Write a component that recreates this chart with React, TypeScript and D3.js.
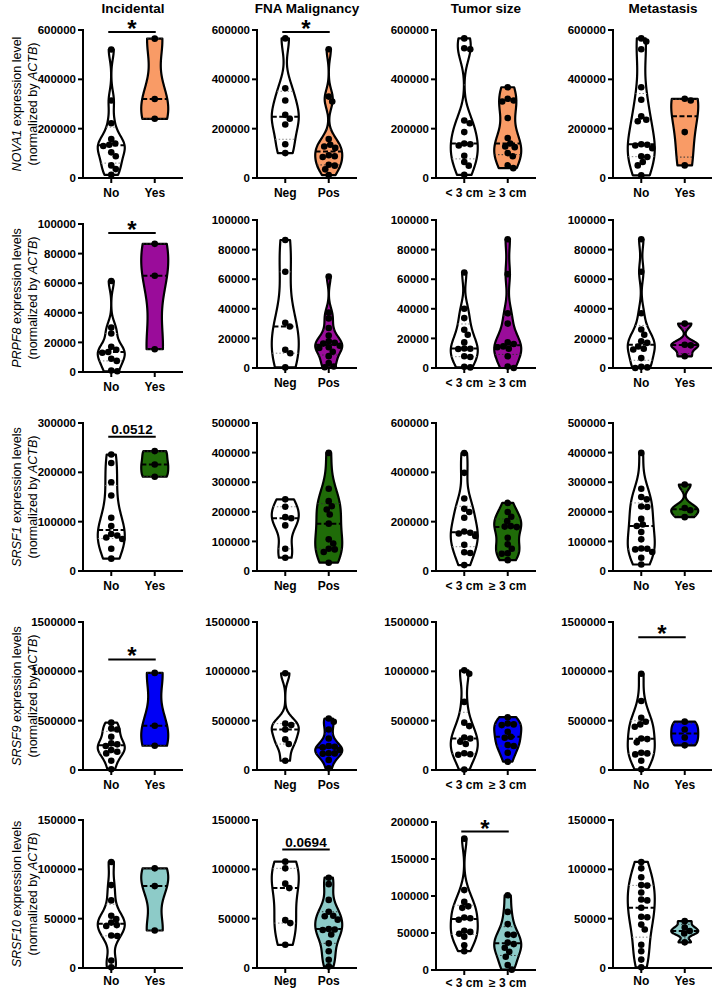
import React from "react";
import * as d3 from "d3";

// ---------- data ----------
const genes = ["NOVA1", "PRPF8", "SRSF1", "SRSF9", "SRSF10"];
const geneSuffix = [" expression level", " expression levels", " expression levels", " expression levels", " expression levels"];
const titles = ["Incidental", "FNA Malignancy", "Tumor size", "Metastasis"];
const groupLabels = [["No", "Yes"], ["Neg", "Pos"], ["< 3 cm", "\u2265 3 cm"], ["No", "Yes"]];
const rowColors = ["#F99B66", "#9A0C9A", "#1F6B08", "#0000F5", "#8DCBC8"];

const yMaxes = [
  [600000, 600000, 600000, 600000],
  [100000, 100000, 100000, 100000],
  [300000, 500000, 600000, 500000],
  [1500000, 1500000, 1500000, 1500000],
  [150000, 150000, 200000, 150000],
];
const yTickSteps = [
  [200000, 200000, 200000, 200000],
  [20000, 20000, 20000, 20000],
  [100000, 100000, 200000, 100000],
  [500000, 500000, 500000, 500000],
  [50000, 50000, 50000, 50000],
];

// NOVA1
const nova1Incidental = [
  [521000, 314000, 222000, 158000, 140000, 135000, 130000, 104000, 88000, 51000, 36000, 13000],
  [565000, 320000, 240000],
];
const nova1FNA = [
  [566000, 364000, 314000, 256000, 240000, 217000, 137000, 101000],
  [522000, 330000, 310000, 158000, 135000, 128000, 122000, 92000, 88000, 85000, 54000, 50000, 35000, 12000],
];
const nova1Tumor = [
  [566000, 526000, 522000, 233000, 222000, 186000, 140000, 137000, 132000, 90000, 65000, 50000, 13000],
  [368000, 321000, 314000, 310000, 243000, 162000, 140000, 128000, 125000, 101000, 88000, 51000, 40000],
];
const nova1Meta = [
  [566000, 553000, 522000, 368000, 317000, 250000, 236000, 230000, 137000, 135000, 132000, 121000, 88000, 85000, 65000, 51000, 11000],
  [321000, 314000, 186000, 51000],
];
// PRPF8
const prpf8Incidental = [
  [61500, 30000, 26000, 17000, 15000, 13500, 13000, 9000, 7500, 1000, 500],
  [86600, 65000, 15400],
];
const prpf8FNA = [
  [86500, 65000, 30500, 28000, 12300, 10000, 400],
  [61800, 37500, 33500, 27000, 22000, 18000, 17000, 16500, 15000, 14000, 13500, 11000, 8000, 3400, 1000, 500],
];
const prpf8Tumor = [
  [64500, 40000, 33700, 25800, 22500, 17300, 13200, 13000, 12800, 7900, 7400, 800, 400],
  [87000, 63400, 37000, 30000, 17300, 16200, 14600, 14000, 13000, 7900, 1000, 0],
];
const prpf8Meta = [
  [87000, 65000, 37000, 26000, 22500, 18000, 17000, 14500, 13000, 12500, 6700, 800, 400, 0],
  [30000, 15700, 15300, 7900],
];
// SRSF1
const srsf1Incidental = [
  [236000, 219000, 180000, 153000, 108000, 91000, 75000, 72000, 68000, 65000, 45000, 25000],
  [243000, 216000, 191000],
];
const srsf1FNA = [
  [242000, 217000, 182000, 178000, 154000, 75000, 45000],
  [399000, 278000, 236000, 219000, 208000, 191000, 160000, 107000, 93000, 75000, 73000, 64000, 28000],
];
const srsf1Tumor = [
  [478000, 398000, 294000, 252000, 239000, 216000, 160000, 155000, 152000, 142000, 106000, 76000, 73000, 24000],
  [276000, 239000, 220000, 202000, 182000, 180000, 178000, 135000, 108000, 90000, 72000, 70000, 44000],
];
const srsf1Meta = [
  [399000, 278000, 250000, 242000, 218000, 216000, 176000, 157000, 152000, 132000, 107000, 76000, 75000, 73000, 64000, 45000, 22000],
  [292000, 213000, 205000, 182000],
];
// SRSF9
const srsf9Incidental = [
  [480000, 420000, 410000, 337000, 270000, 260000, 243000, 202000, 185000, 168000, 94000, 7000],
  [984000, 448000, 246000],
];
const srsf9FNA = [
  [980000, 470000, 455000, 410000, 310000, 263000, 94000],
  [522000, 489000, 411000, 320000, 243000, 236000, 229000, 202000, 170000, 168000, 165000, 101000, 17000],
];
const srsf9Tumor = [
  [1010000, 975000, 690000, 480000, 445000, 330000, 320000, 287000, 263000, 170000, 160000, 155000, 5000],
  [535000, 472000, 462000, 455000, 388000, 337000, 327000, 253000, 243000, 175000, 84000],
];
const srsf9Meta = [
  [975000, 700000, 530000, 489000, 462000, 438000, 320000, 313000, 280000, 175000, 168000, 158000, 94000, 7000],
  [490000, 410000, 330000, 250000],
];
// SRSF10
const srsf10Incidental = [
  [107500, 84000, 68500, 53000, 49500, 46000, 43500, 42500, 33000, 32500, 7500, 700],
  [101000, 83000, 38000],
];
const srsf10FNA = [
  [107800, 101000, 85500, 81000, 48500, 45500, 23500],
  [91500, 85000, 69000, 57000, 53000, 52500, 49000, 39500, 39000, 38500, 34000, 25000, 17000, 8400, 1600],
];
const srsf10Tumor = [
  [177500, 108000, 92000, 86000, 84000, 71000, 70000, 68000, 53000, 51500, 49000, 45000, 33500, 25500],
  [101000, 78500, 62000, 48000, 47500, 37000, 35000, 30000, 24500, 18000, 6700, 500],
];
const srsf10Meta = [
  [107500, 101000, 92000, 84000, 83500, 76500, 69500, 68500, 61000, 52000, 51500, 44000, 39000, 23500, 17000, 8500, 700],
  [47500, 41000, 37500, 35000, 26000],
];

const panelData = [
  [nova1Incidental, nova1FNA, nova1Tumor, nova1Meta],
  [prpf8Incidental, prpf8FNA, prpf8Tumor, prpf8Meta],
  [srsf1Incidental, srsf1FNA, srsf1Tumor, srsf1Meta],
  [srsf9Incidental, srsf9FNA, srsf9Tumor, srsf9Meta],
  [srsf10Incidental, srsf10FNA, srsf10Tumor, srsf10Meta],
];

// significance annotations
const sigRows = [0, 0, 1, 2, 3, 3, 4, 4];
const sigCols = [0, 1, 0, 0, 0, 3, 1, 2];
const sigLabels = ["*", "*", "*", "0.0512", "*", "*", "0.0694", "*"];
const sigValues = [592000, 592000, 94000, 272000, 1120000, 1345000, 120000, 187000];

// ---------- layout ----------
const W = 712;
const H = 991;
const FONT = '"Liberation Sans", Arial, Helvetica, sans-serif';
const colX = [83, 257, 436, 613];
const rowTop = [30, 220, 423, 622, 820];
const plotH = 148;
const plotW = 100;
const panelDy: Record<string, number> = { "1-0": 4, "4-2": 2 };
const HALF_W = 13.5;
const R = 3.3;

function quant(sorted: number[], p: number) {
  const n = sorted.length;
  const pos = p * (n + 1);
  if (pos <= 1) return sorted[0];
  if (pos >= n) return sorted[n - 1];
  const i = Math.floor(pos);
  return sorted[i - 1] + (pos - i) * (sorted[i] - sorted[i - 1]);
}

function bandwidth(values: number[]) {
  const n = values.length;
  const sorted = values.slice().sort(d3.ascending);
  const sd = d3.deviation(values) || 1;
  const iqr = (d3.quantile(sorted, 0.75) as number) - (d3.quantile(sorted, 0.25) as number);
  const s = iqr > 0 ? Math.min(sd, iqr / 1.34) : sd;
  return 0.9 * s * Math.pow(n, -0.2);
}

function Violin({ values, cx, y, fill }: { values: number[]; cx: number; y: d3.ScaleLinear<number, number>; fill: string }) {
  const sorted = values.slice().sort(d3.ascending);
  const lo = sorted[0];
  const hi = sorted[sorted.length - 1];
  const h = bandwidth(values);
  const dens = (v: number) => d3.sum(values, (d) => Math.exp(-0.5 * ((v - d) / h) ** 2));
  const grid = d3.range(0, 101).map((i) => lo + ((hi - lo) * i) / 100);
  const maxD = d3.max(grid, dens) as number;
  const wAt = (v: number) => (dens(v) / maxD) * HALF_W;
  const area = d3
    .area<number>()
    .y((v) => y(v))
    .x0((v) => cx - wAt(v))
    .x1((v) => cx + wAt(v))
    .curve(d3.curveMonotoneY);
  const med = quant(sorted, 0.5);
  const q1 = quant(sorted, 0.25);
  const q3 = quant(sorted, 0.75);

  // beeswarm placement
  const placed: { x: number; y: number }[] = [];
  const pts = sorted
    .slice()
    .reverse()
    .map((v) => ({ v, py: y(v) }));
  for (const p of pts) {
    let off = 0;
    for (let k = 0; k < 80; k++) {
      const cand = (k % 2 === 1 ? 1 : -1) * Math.ceil(k / 2) * 0.5;
      const ok = placed.every((q) => (q.x - (cx + cand)) ** 2 + (q.y - p.py) ** 2 >= (2 * R - 0.8) ** 2);
      if (ok) {
        off = cand;
        break;
      }
    }
    placed.push({ x: cx + off, y: p.py });
  }

  return (
    <g>
      <path d={area(grid) as string} fill={fill} stroke="#000" strokeWidth={2.2} strokeLinejoin="round" />
      {[q1, q3].map((q, i) => (
        <line key={i} x1={cx - wAt(q)} x2={cx + wAt(q)} y1={y(q)} y2={y(q)} stroke={fill === "#ffffff" ? "#888" : "#333"} strokeWidth={1} strokeDasharray="1.5,2" />
      ))}
      <line x1={cx - wAt(med)} x2={cx + wAt(med)} y1={y(med)} y2={y(med)} stroke="#000" strokeWidth={2} strokeDasharray="5,2.5" />
      {placed.map((p, i) => (
        <circle key={i} cx={p.x} cy={p.y} r={R} fill="#000" />
      ))}
    </g>
  );
}

function Panel({ row, col }: { row: number; col: number }) {
  const dy = panelDy[`${row}-${col}`] || 0;
  const top = rowTop[row] + dy;
  const bottom = top + plotH;
  const x0 = colX[col];
  const yMax = yMaxes[row][col];
  const step = yTickSteps[row][col];
  const y = d3.scaleLinear().domain([0, yMax]).range([bottom, top]);
  const x = d3.scalePoint<number>().domain([0, 1]).range([x0, x0 + plotW]).padding(0.65);
  const ticks = d3.range(0, yMax + 1, step);
  const groups = panelData[row][col];
  const fmt = d3.format("d");
  const sigs = sigRows.map((r, i) => i).filter((i) => sigRows[i] === row && sigCols[i] === col);
  const labelOff = row === 4 ? 17 : 19;

  return (
    <g>
      {groups.map((vals, gi) => (
        <Violin key={gi} values={vals} cx={x(gi) as number} y={y} fill={gi === 0 ? "#ffffff" : rowColors[row]} />
      ))}
      <line x1={x0} x2={x0} y1={top - 1} y2={bottom + 1} stroke="#000" strokeWidth={2} />
      <line x1={x0 - 1} x2={x0 + plotW} y1={bottom} y2={bottom} stroke="#000" strokeWidth={2} />
      {ticks.map((t) => (
        <g key={t}>
          <line x1={x0 - 5} x2={x0} y1={y(t)} y2={y(t)} stroke="#000" strokeWidth={2} />
          <text x={x0 - 7} y={y(t)} dy="0.36em" textAnchor="end" fontFamily={FONT} fontWeight="bold" fontSize={11.5} fill="#000">
            {fmt(t)}
          </text>
        </g>
      ))}
      {[0, 1].map((gi) => (
        <g key={gi}>
          <line x1={x(gi)} x2={x(gi)} y1={bottom} y2={bottom + 5} stroke="#000" strokeWidth={2} />
          <text x={x(gi)} y={bottom + labelOff} textAnchor="middle" fontFamily={FONT} fontWeight="bold" fontSize={12} fill="#000">
            {groupLabels[col][gi]}
          </text>
        </g>
      ))}
      {sigs.map((i) => {
        const by = y(sigValues[i]);
        const xa = (x(0) as number) - 3;
        const xb = (x(1) as number) + 1;
        const star = sigLabels[i] === "*";
        return (
          <g key={i}>
            <line x1={xa} x2={xb} y1={by} y2={by} stroke="#000" strokeWidth={2} />
            <text x={(xa + xb) / 2} y={star ? by + 5 : by - 3} textAnchor="middle" fontFamily={FONT} fontWeight="bold" fontSize={star ? 24 : 13.5} fill="#000">
              {sigLabels[i]}
            </text>
          </g>
        );
      })}
    </g>
  );
}

export default function App() {
  return (
    <svg width={W} height={H} viewBox={`0 0 ${W} ${H}`} style={{ position: "absolute", left: 0, top: 0, display: "block", background: "#fff" }}>
      <rect x={0} y={0} width={W} height={H} fill="#fff" />
      {titles.map((t, c) => (
        <text key={t} x={colX[c] + 50} y={12.5} textAnchor="middle" fontFamily={FONT} fontWeight="bold" fontSize={13.5} fill="#000">
          {t}
        </text>
      ))}
      {genes.map((g, r) => {
        const cy = rowTop[r] + (panelDy[`${r}-0`] || 0) + plotH / 2;
        return (
          <g key={g}>
            <text transform={`translate(21,${cy}) rotate(-90)`} textAnchor="middle" fontFamily={FONT} fontSize={12.5} fill="#000">
              <tspan fontStyle="italic">{g}</tspan>
              <tspan>{geneSuffix[r]}</tspan>
            </text>
            <text transform={`translate(37,${cy}) rotate(-90)`} textAnchor="middle" fontFamily={FONT} fontSize={12.5} fill="#000">
              <tspan>(normalized by </tspan>
              <tspan fontStyle="italic">ACTB</tspan>
              <tspan>)</tspan>
            </text>
          </g>
        );
      })}
      {genes.map((g, r) => titles.map((t, c) => <Panel key={`${r}-${c}`} row={r} col={c} />))}
    </svg>
  );
}
